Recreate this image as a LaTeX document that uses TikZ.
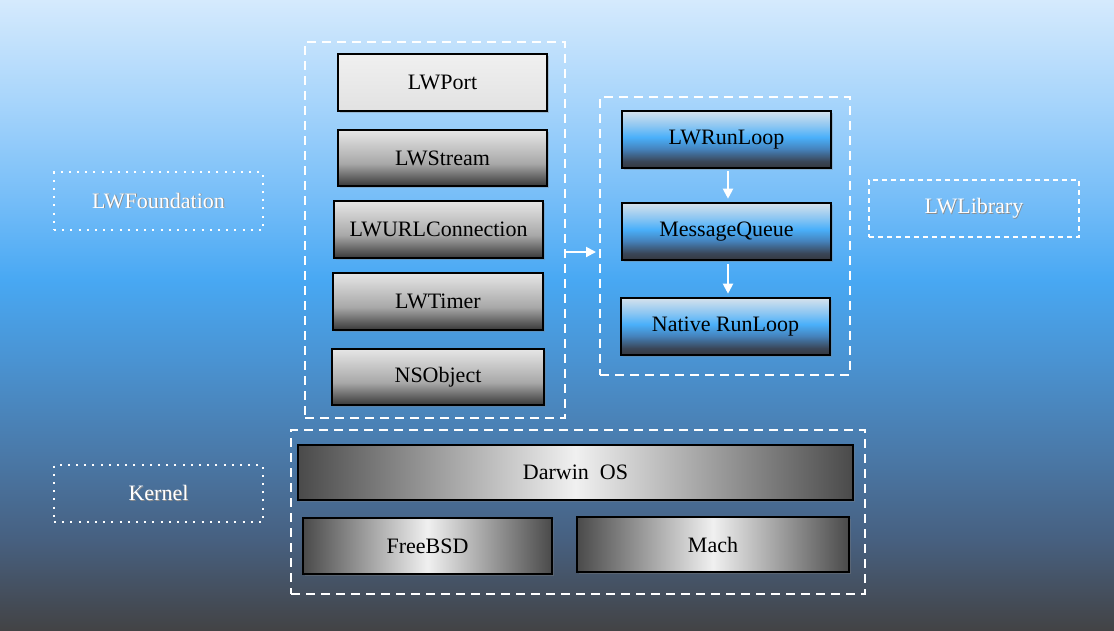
\documentclass[tikz,border=0pt]{standalone}
\usepackage{fontspec}
\setmainfont{Liberation Serif}
\usetikzlibrary{arrows.meta,shadows}
\definecolor{bg0}{HTML}{D5EAFD}
\definecolor{bg1}{HTML}{A8D5FB}
\definecolor{bg2}{HTML}{75BDF8}
\definecolor{bg3}{HTML}{48A8F3}
\definecolor{bg4}{HTML}{4A93D2}
\definecolor{bg5}{HTML}{4A7AAA}
\definecolor{bg6}{HTML}{476080}
\definecolor{bg7}{HTML}{434345}
\definecolor{gtop}{HTML}{E6E6E6}
\definecolor{gmid}{HTML}{A8A8A8}
\definecolor{gbot}{HTML}{383838}
\definecolor{btop}{HTML}{D6E2EC}
\definecolor{bup}{HTML}{8CC6F2}
\definecolor{bmid}{HTML}{4AB0FA}
\definecolor{bmid2}{HTML}{4584BE}
\definecolor{bdk}{HTML}{3A4658}
\definecolor{bbot}{HTML}{34373E}
\definecolor{hdk}{HTML}{4A4A4A}
\definecolor{hlt}{HTML}{F0F0F0}
\definecolor{ptop}{HTML}{F0F0F0}
\definecolor{pbot}{HTML}{E2E2E2}
\pgfdeclareverticalshading{bgshade}{100bp}{color(0bp)=(bg7); color(25bp)=(bg7); color(32.14bp)=(bg6); color(39.29bp)=(bg5); color(46.43bp)=(bg4); color(52.78bp)=(bg3); color(59.13bp)=(bg2); color(67.06bp)=(bg1); color(75bp)=(bg0); color(100bp)=(bg0)}
\pgfdeclareverticalshading{grayv}{100bp}{color(0bp)=(gbot); color(25bp)=(gbot); color(45bp)=(gmid); color(75bp)=(gtop); color(100bp)=(gtop)}
\pgfdeclareverticalshading{bluev}{100bp}{color(0bp)=(bbot); color(25bp)=(bbot); color(31bp)=(bdk); color(42bp)=(bmid2); color(52bp)=(bmid); color(62bp)=(bup); color(75bp)=(btop); color(100bp)=(btop)}
\pgfdeclarehorizontalshading{grayh}{100bp}{color(0bp)=(hdk); color(25bp)=(hdk); color(50bp)=(hlt); color(75bp)=(hdk); color(100bp)=(hdk)}
\pgfdeclareverticalshading{portv}{100bp}{color(0bp)=(pbot); color(25bp)=(pbot); color(75bp)=(ptop); color(100bp)=(ptop)}
\newcommand{\shadowtxt}[1]{\leavevmode\rlap{\kern0.9pt\raisebox{-0.9pt}{\textcolor{black!45}{#1}}}\textcolor{white}{#1}}
\begin{document}
\begin{tikzpicture}[x=1pt,y=-1pt,
  box/.style={draw=black,line width=2.6pt,font=\fontsize{22}{26}\selectfont,text=black,
    drop shadow={shadow xshift=1.5pt,shadow yshift=-1.5pt,opacity=0.35}},
  gv/.style={box,shading=grayv},
  bv/.style={box,shading=bluev},
  gh/.style={box,shading=grayh},
  pv/.style={box,shading=portv},
  cont/.style={draw=white,line width=2pt,dash pattern=on 9pt off 6pt},
  dotlab/.style={draw=white,line width=2pt,dash pattern=on 2pt off 6.2pt,font=\fontsize{22}{26}\selectfont},
  dashlab/.style={draw=white,line width=2pt,dash pattern=on 5pt off 4pt,font=\fontsize{22}{26}\selectfont},
  arr/.style={draw=white,line width=2pt,-{Triangle[length=10pt,width=10pt]}}
]
\useasboundingbox (0,0) rectangle (1114,630);
\shade[shading=bgshade] (0,0) rectangle (1114,630);

% containers
\node[cont,minimum width=260,minimum height=376] (lc) at (435,230) {};
\node[cont,minimum width=250,minimum height=278] (rc) at (725,236) {};
\node[cont,minimum width=574,minimum height=164] (bc) at (578,512) {};

% left stack
\node[pv,minimum width=209,minimum height=57] (port) at (442.5,82.5) {LWPort};
\node[gv,minimum width=209,minimum height=56] (stream) at (442.5,158) {LWStream};
\node[gv,minimum width=209,minimum height=57] (url) at (438.5,229.5) {LWURLConnection};
\node[gv,minimum width=210,minimum height=57] (timer) at (438,301.5) {LWTimer};
\node[gv,minimum width=212,minimum height=56] (nsobj) at (438,377) {NSObject};

% right stack
\node[bv,minimum width=209,minimum height=57] (runloop) at (726.5,139.5) {LWRunLoop};
\node[bv,minimum width=209,minimum height=57] (mq) at (726.5,231.5) {MessageQueue};
\node[bv,minimum width=209,minimum height=57] (nrl) at (725.5,326.5) {Native RunLoop};

% kernel
\node[gh,minimum width=555,minimum height=55] (darwin) at (575.5,472.5) {Darwin\ \ OS};
\node[gh,minimum width=249,minimum height=56] (freebsd) at (427.5,546) {FreeBSD};
\node[gh,minimum width=272,minimum height=55] (mach) at (713,544.5) {Mach};

% side labels
\node[dotlab,minimum width=209,minimum height=58] (lwf) at (158.5,201) {\shadowtxt{LWFoundation}};
\node[dashlab,minimum width=210,minimum height=57] (lwl) at (974,208.5) {\shadowtxt{LWLibrary}};
\node[dotlab,minimum width=209,minimum height=57] (kern) at (158.5,493.5) {\shadowtxt{Kernel}};

% arrows
\coordinate (ax) at (728,0);
\draw[arr,shorten <=2pt,shorten >=3pt] (runloop.south -| ax) -- (mq.north -| ax);
\draw[arr,shorten <=3pt,shorten >=3pt] (mq.south -| ax) -- (nrl.north -| ax);
\coordinate (ay) at (580,252);
\draw[arr,shorten >=3pt] (lc.east |- ay) -- (rc.west |- ay);
\end{tikzpicture}
\end{document}
